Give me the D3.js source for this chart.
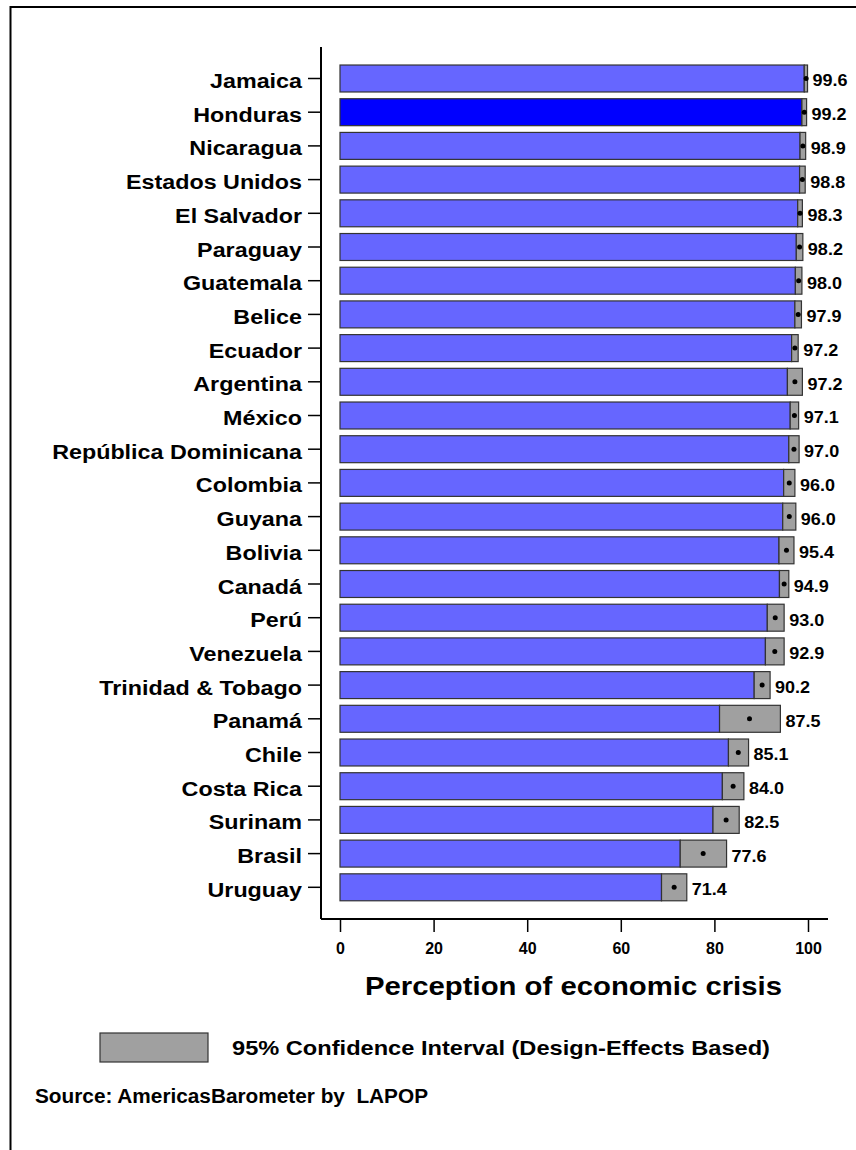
<!DOCTYPE html>
<html>
<head>
<meta charset="utf-8">
<script src="https://cdn.jsdelivr.net/npm/d3@7"></script>
<style>
  html, body { margin: 0; padding: 0; background: #fff; }
  svg { display: block; }
  text { font-family: "Liberation Sans", Arial, sans-serif; font-weight: bold; fill: #000; }
</style>
</head>
<body>
<svg id="chart" width="856" height="1150"></svg>
<script>
// Country names, top to bottom
const countries = [
  "Jamaica", "Honduras", "Nicaragua", "Estados Unidos", "El Salvador",
  "Paraguay", "Guatemala", "Belice", "Ecuador", "Argentina", "México",
  "República Dominicana", "Colombia", "Guyana", "Bolivia", "Canadá", "Perú",
  "Venezuela", "Trinidad & Tobago", "Panamá", "Chile", "Costa Rica",
  "Surinam", "Brasil", "Uruguay"
];
// Mean perception of economic crisis
const means = [
  99.6, 99.2, 98.9, 98.8, 98.3, 98.2, 98.0, 97.9, 97.2, 97.2, 97.1,
  97.0, 96.0, 96.0, 95.4, 94.9, 93.0, 92.9, 90.2, 87.5, 85.1, 84.0,
  82.5, 77.6, 71.4
];
// 95% confidence interval bounds
const ciLow = [
  99.2, 98.7, 98.3, 98.2, 97.8, 97.5, 97.3, 97.2, 96.5, 95.6, 96.2,
  95.9, 94.8, 94.6, 93.8, 93.9, 91.3, 90.9, 88.5, 81.1, 83.0, 81.7,
  79.7, 72.7, 68.7
];
const ciHigh = [
  99.9, 99.7, 99.5, 99.4, 98.8, 98.9, 98.7, 98.6, 97.9, 98.8, 98.0,
  98.1, 97.2, 97.4, 97.0, 95.9, 94.9, 94.9, 91.9, 94.1, 87.3, 86.3,
  85.3, 82.6, 74.1
];
const highlighted = "Honduras";
const xTicks = [0, 20, 40, 60, 80, 100];
const xTitle = "Perception of economic crisis";
const legendLabel = "95% Confidence Interval (Design-Effects Based)";
const sourceLabel = "Source: AmericasBarometer by\u00a0\u00a0LAPOP";

const rows = countries.map((c, i) => ({
  country: c, mean: means[i], lo: ciLow[i], hi: ciHigh[i]
}));

const svg = d3.select("#chart");

// outer frame
svg.append("rect")
  .attr("x", 10.5).attr("y", 7)
  .attr("width", 900).attr("height", 1200)
  .attr("fill", "none").attr("stroke", "#000").attr("stroke-width", 2);

const axisX = 321, axisY = 919;
const x = d3.scaleLinear().domain([0, 100]).range([340, 808]);
const y = d3.scaleBand().domain(countries)
  .range([61.65, 904.15]).paddingInner(0.2).paddingOuter(0.1);

const barStroke = "#333";

// blue bars: zero up to the lower confidence bound
svg.append("g").selectAll("rect")
  .data(rows).join("rect")
  .attr("x", x(0))
  .attr("y", d => y(d.country))
  .attr("width", d => x(d.lo) - x(0))
  .attr("height", y.bandwidth())
  .attr("fill", d => d.country === highlighted ? "#0000ff" : "#6666ff")
  .attr("stroke", barStroke).attr("stroke-width", 1.2);

// grey confidence interval segments
svg.append("g").selectAll("rect")
  .data(rows).join("rect")
  .attr("x", d => x(d.lo))
  .attr("y", d => y(d.country))
  .attr("width", d => x(d.hi) - x(d.lo))
  .attr("height", y.bandwidth())
  .attr("fill", "#a0a0a0")
  .attr("stroke", barStroke).attr("stroke-width", 1.2);

// point estimates
svg.append("g").selectAll("circle")
  .data(rows).join("circle")
  .attr("cx", d => x(d.mean))
  .attr("cy", d => y(d.country) + y.bandwidth() / 2)
  .attr("r", 2.5)
  .attr("fill", "#000");

// value labels
svg.append("g").selectAll("text")
  .data(rows).join("text")
  .attr("transform", d => `translate(${x(d.hi) + 5},${y(d.country) + y.bandwidth() / 2 + 2}) scale(1.06,1)`)
  .attr("dy", "0.35em")
  .style("font-size", "17px")
  .text(d => d.mean.toFixed(1));

// y axis
const yAxis = svg.append("g")
  .attr("transform", `translate(${axisX},0)`)
  .call(d3.axisLeft(y).tickSize(13).tickSizeOuter(0).tickPadding(6));
yAxis.select(".domain").remove();
yAxis.selectAll(".tick line").attr("stroke", "#000").attr("stroke-width", 1.5);
yAxis.selectAll(".tick text")
  .attr("x", null)
  .attr("transform", "translate(-19,2) scale(1.11,1)")
  .attr("dy", "0.36em")
  .attr("text-anchor", "end")
  .style("font-size", "21px")
  .style("font-family", "'Liberation Sans', Arial, sans-serif")
  .style("font-weight", "bold")
  .attr("fill", "#000");
svg.append("line")
  .attr("x1", axisX).attr("x2", axisX)
  .attr("y1", 47).attr("y2", axisY)
  .attr("stroke", "#000").attr("stroke-width", 2);

// x axis
const xAxis = svg.append("g")
  .attr("transform", `translate(0,${axisY})`)
  .call(d3.axisBottom(x).tickValues(xTicks).tickSize(13).tickSizeOuter(0).tickPadding(8));
xAxis.select(".domain").remove();
xAxis.selectAll(".tick line").attr("stroke", "#000").attr("stroke-width", 1.5);
xAxis.selectAll(".tick text")
  .attr("y", 24)
  .style("font-size", "16px")
  .style("font-family", "'Liberation Sans', Arial, sans-serif")
  .style("font-weight", "bold")
  .attr("fill", "#000");
svg.append("line")
  .attr("x1", axisX).attr("x2", 828)
  .attr("y1", axisY).attr("y2", axisY)
  .attr("stroke", "#000").attr("stroke-width", 2);

// axis title
svg.append("text")
  .attr("x", 365).attr("y", 995)
  .attr("textLength", 417).attr("lengthAdjust", "spacingAndGlyphs")
  .style("font-size", "26px")
  .text(xTitle);

// legend
svg.append("rect")
  .attr("x", 100).attr("y", 1033)
  .attr("width", 108).attr("height", 29)
  .attr("fill", "#a0a0a0").attr("stroke", barStroke).attr("stroke-width", 1.2);
svg.append("text")
  .attr("x", 232).attr("y", 1055)
  .attr("textLength", 538).attr("lengthAdjust", "spacingAndGlyphs")
  .style("font-size", "21px")
  .text(legendLabel);

// source note
svg.append("text")
  .attr("x", 35).attr("y", 1103)
  .attr("textLength", 393).attr("lengthAdjust", "spacingAndGlyphs")
  .style("font-size", "20px")
  .text(sourceLabel);
</script>
</body>
</html>
